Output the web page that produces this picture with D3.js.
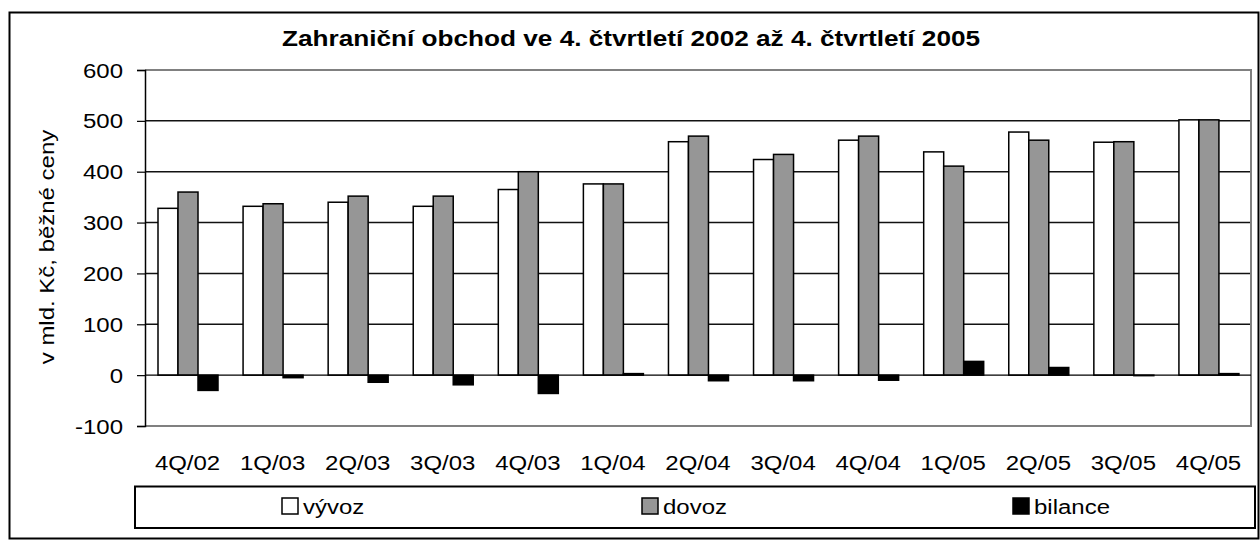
<!DOCTYPE html>
<html>
<head>
<meta charset="utf-8">
<script src="https://cdn.jsdelivr.net/npm/d3@7"></script>
<style>
  body { margin: 0; background: #fff; }
  text { font-family: "Liberation Sans", Arial, sans-serif; fill: #000; }
</style>
</head>
<body>
<script>
// data
var categories = ["4Q/02", "1Q/03", "2Q/03", "3Q/03", "4Q/03", "1Q/04", "2Q/04",
                  "3Q/04", "4Q/04", "1Q/05", "2Q/05", "3Q/05", "4Q/05"];
var vyvoz   = [328, 332, 340, 332, 365, 376, 459, 424, 462, 439, 478, 458, 502];
var dovoz   = [360, 337, 352, 352, 400, 376, 470, 434, 470, 411, 462, 459, 502];
var bilance = [-30, -5, -14, -19, -36, 3, -11, -11, -10, 27, 15, -1, 3];
var seriesNames = ["vývoz", "dovoz", "bilance"];
var yTicks = [-100, 0, 100, 200, 300, 400, 500, 600];

var W = 1260, H = 541;
var plot = { left: 145, right: 1251, top: 70, bottom: 426 };
var fills = { "vývoz": "#ffffff", "dovoz": "#969696", "bilance": "#000000" };
var sx = 1.23; // text in the picture is stretched sideways

var svg = d3.select("body").append("svg")
  .attr("width", W)
  .attr("height", H);

// outer frame
svg.append("rect")
  .attr("x", 9.5).attr("y", 12.5)
  .attr("width", 1249).attr("height", 526)
  .attr("fill", "#fff").attr("stroke", "#000").attr("stroke-width", 2);

var x = d3.scaleBand().domain(categories).range([plot.left, plot.right]);
var xs = d3.scaleBand().domain(seriesNames).range([13, 73]);
var y = d3.scaleLinear().domain([-100, 600]).range([plot.bottom, plot.top]);

// stretched text helper
function label(g, str, px, py, anchor, extra, k) {
  return g.append("text")
    .attr("transform", "translate(" + px + "," + py + ")" + (extra || "") + " scale(" + (k || sx) + ",1)")
    .attr("text-anchor", anchor)
    .text(str);
}

// title
label(svg, "Zahraniční obchod ve 4. čtvrtletí 2002 až 4. čtvrtletí 2005", 631, 46, "middle", "", 1.19)
  .attr("font-size", 22).attr("font-weight", "bold");

// gridlines
svg.append("g").selectAll("line")
  .data(yTicks.filter(function(d) { return d > 0 && d < 600; }))
  .enter().append("line")
  .attr("x1", plot.left).attr("x2", plot.right)
  .attr("y1", function(d) { return y(d); })
  .attr("y2", function(d) { return y(d); })
  .attr("stroke", "#111").attr("stroke-width", 1.5);

// plot frame (grey top/right/bottom)
svg.append("path")
  .attr("d", "M" + plot.left + "," + plot.top + "H" + plot.right + "V" + plot.bottom + "H" + plot.left)
  .attr("fill", "none").attr("stroke", "#808080").attr("stroke-width", 2);

// bars
var rows = categories.map(function(c, i) {
  return { cat: c, values: [
    { s: "vývoz", v: vyvoz[i] },
    { s: "dovoz", v: dovoz[i] },
    { s: "bilance", v: bilance[i] }
  ] };
});

var groups = svg.append("g").selectAll("g")
  .data(rows)
  .enter().append("g")
  .attr("transform", function(d) { return "translate(" + x(d.cat) + ",0)"; });

groups.selectAll("rect")
  .data(function(d) { return d.values; })
  .enter().append("rect")
  .attr("x", function(d) { return xs(d.s); })
  .attr("width", xs.bandwidth())
  .attr("y", function(d) { return y(Math.max(0, d.v)); })
  .attr("height", function(d) { return Math.abs(y(d.v) - y(0)); })
  .attr("fill", function(d) { return fills[d.s]; })
  .attr("stroke", "#000").attr("stroke-width", 1.5);

// zero line
svg.append("line")
  .attr("x1", plot.left).attr("x2", plot.right)
  .attr("y1", y(0)).attr("y2", y(0))
  .attr("stroke", "#000").attr("stroke-width", 1.2);

// y axis
var yAxis = svg.append("g")
  .attr("transform", "translate(" + plot.left + ",0)")
  .call(d3.axisLeft(y).tickValues(yTicks).tickSize(8).tickFormat(d3.format("d")));
yAxis.select(".domain").attr("stroke", "#000").attr("stroke-width", 1.5);
yAxis.selectAll(".tick line").attr("stroke", "#000").attr("stroke-width", 1.2);
yAxis.selectAll(".tick text").remove();
yAxis.selectAll(".tick").each(function(d) {
  label(d3.select(this), d, -22, 7, "end").attr("font-size", 19.5);
});

// y title
label(svg, "v mld. Kč, běžné ceny", 54, 247, "middle", " rotate(-90)")
  .attr("font-size", 19.5);

// category labels
categories.forEach(function(c) {
  label(svg, c, x(c) + x.bandwidth() / 2, 470, "middle").attr("font-size", 19.5);
});

// legend
var legend = svg.append("g");
legend.append("rect")
  .attr("x", 135).attr("y", 486.5)
  .attr("width", 1120).attr("height", 41.5)
  .attr("fill", "#fff").attr("stroke", "#000").attr("stroke-width", 2);

var legendX = [282, 642, 1013];
seriesNames.forEach(function(s, i) {
  legend.append("rect")
    .attr("x", legendX[i]).attr("y", 498)
    .attr("width", 16).attr("height", 16)
    .attr("fill", fills[s]).attr("stroke", "#000").attr("stroke-width", 1.5);
  label(legend, s, legendX[i] + 21, 514, "start").attr("font-size", 19.5);
});
</script>
</body>
</html>
